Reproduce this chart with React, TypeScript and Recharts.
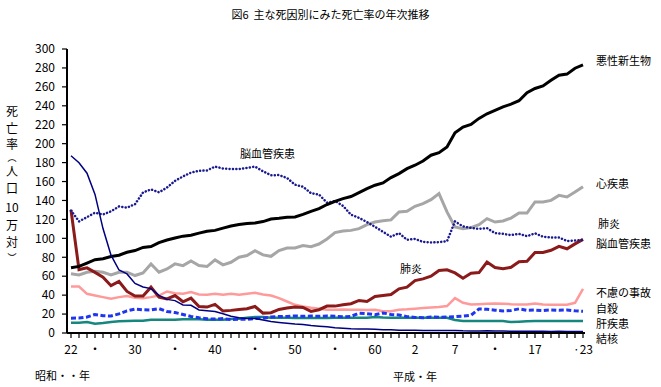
import { CartesianGrid, Line, LineChart, XAxis, YAxis } from "recharts";

const FONT = "'Noto Sans CJK JP', 'Noto Sans', sans-serif";

// 昭和22年(1947) ～ 平成23年(2011)
const years = [
  1947, 1948, 1949, 1950, 1951, 1952, 1953, 1954, 1955, 1956,
  1957, 1958, 1959, 1960, 1961, 1962, 1963, 1964, 1965, 1966,
  1967, 1968, 1969, 1970, 1971, 1972, 1973, 1974, 1975, 1976,
  1977, 1978, 1979, 1980, 1981, 1982, 1983, 1984, 1985, 1986,
  1987, 1988, 1989, 1990, 1991, 1992, 1993, 1994, 1995, 1996,
  1997, 1998, 1999, 2000, 2001, 2002, 2003, 2004, 2005, 2006,
  2007, 2008, 2009, 2010, 2011,
];

const cancer = [
  69.0, 70.4, 73.9, 77.4, 78.5, 80.8, 82.2, 85.3, 87.1, 90.4,
  91.3, 95.5, 98.2, 100.4, 102.3, 103.2, 105.5, 107.5, 108.4, 110.8,
  113.0, 114.6, 115.7, 116.3, 117.7, 120.4, 121.2, 122.2, 122.6, 125.3,
  128.4, 131.3, 135.7, 139.1, 142.0, 144.2, 148.3, 152.5, 156.1, 158.5,
  164.2, 168.4, 173.6, 177.2, 181.7, 187.8, 190.4, 196.4, 211.6, 217.5,
  220.4, 226.7, 231.6, 235.2, 238.8, 241.7, 245.4, 253.9, 258.3, 261.0,
  266.9, 272.3, 273.5, 279.7, 283.2,
];

const heart = [
  62.5, 61.4, 64.2, 65.3, 64.2, 61.4, 64.2, 64.2, 60.7, 63.5,
  73.0, 64.2, 67.7, 73.0, 71.2, 76.1, 71.2, 70.2, 77.2, 72.0,
  74.7, 80.0, 81.8, 87.0, 82.5, 81.0, 87.0, 89.8, 89.8, 92.3,
  91.2, 94.0, 99.3, 106.0, 107.7, 108.4, 110.2, 114.5, 117.2, 118.5,
  119.5, 127.8, 128.5, 133.8, 136.6, 140.8, 147.2, 128.0, 112.0, 110.2,
  111.3, 114.4, 120.8, 117.2, 118.3, 121.4, 126.7, 126.7, 138.4, 138.4,
  140.1, 145.4, 143.7, 149.0, 154.5,
];

const cerebro = [
  129.4, 117.9, 122.4, 127.1, 125.2, 128.5, 133.7, 132.4, 136.1, 148.4,
  151.7, 148.6, 153.7, 160.7, 165.4, 169.4, 171.4, 171.7, 175.8, 173.8,
  173.1, 173.2, 174.4, 175.8, 170.8, 166.7, 166.8, 163.8, 156.7, 154.5,
  147.7, 146.2, 137.7, 139.5, 134.3, 125.0, 121.6, 117.2, 112.2, 106.9,
  101.7, 105.5, 98.5, 99.4, 96.2, 95.6, 96.0, 96.9, 117.9, 112.6,
  111.0, 110.0, 110.8, 105.5, 104.7, 103.4, 104.7, 102.3, 105.3, 101.7,
  100.8, 100.9, 97.2, 97.7, 98.2,
];

const pneumonia = [
  130.0, 67.0, 68.8, 64.0, 59.0, 50.0, 54.4, 43.9, 39.0, 39.0,
  48.4, 37.9, 36.0, 39.6, 33.0, 36.8, 28.0, 27.4, 30.2, 23.2,
  23.9, 24.9, 25.6, 28.0, 21.0, 21.4, 24.9, 26.3, 27.4, 27.0,
  22.8, 24.6, 28.4, 28.4, 29.8, 30.9, 34.4, 33.3, 38.6, 39.6,
  40.7, 46.7, 48.4, 55.4, 57.2, 60.0, 66.0, 66.7, 63.5, 57.9,
  63.1, 63.8, 74.9, 69.2, 67.8, 69.4, 75.3, 75.7, 85.0, 85.0,
  87.4, 91.6, 89.0, 94.1, 98.9,
];

const accident = [
  49.1, 49.0, 41.4, 39.6, 37.9, 36.1, 37.9, 39.0, 37.2, 36.8,
  37.9, 39.6, 43.9, 42.1, 41.5, 43.2, 40.7, 40.4, 41.4, 40.4,
  41.4, 40.4, 41.4, 42.5, 40.7, 39.6, 36.8, 33.3, 29.8, 28.0,
  26.7, 25.6, 24.6, 24.5, 24.9, 24.6, 24.6, 24.3, 24.6, 23.0,
  23.0, 24.6, 25.0, 25.6, 26.3, 27.0, 27.4, 28.4, 36.8, 31.9,
  30.2, 30.5, 30.9, 31.2, 31.0, 30.5, 30.2, 30.0, 31.2, 30.0,
  29.8, 29.8, 29.8, 31.9, 46.7,
];

const suicide = [
  15.7, 15.8, 16.9, 19.6, 18.2, 18.0, 20.2, 23.4, 25.2, 24.5,
  24.3, 25.7, 22.7, 21.6, 19.6, 17.5, 16.1, 15.1, 14.7, 15.2,
  14.2, 14.5, 14.5, 15.3, 15.6, 17.0, 17.4, 17.5, 18.0, 17.6,
  17.9, 17.6, 18.0, 17.7, 17.1, 17.5, 21.0, 20.4, 19.4, 21.2,
  19.6, 19.0, 17.3, 16.4, 16.1, 16.9, 16.6, 16.9, 17.2, 17.8,
  18.8, 25.4, 25.0, 24.1, 23.3, 23.8, 25.5, 24.0, 24.2, 23.7,
  24.4, 24.0, 24.4, 23.4, 22.9,
];

const liver = [
  10.9, 10.9, 11.6, 9.8, 10.5, 11.6, 12.3, 12.6, 13.0, 13.0,
  14.0, 14.0, 14.0, 14.0, 14.4, 14.4, 14.4, 14.0, 14.0, 14.0,
  14.7, 15.1, 16.1, 16.8, 16.8, 16.1, 16.0, 16.0, 15.8, 15.8,
  15.8, 15.8, 15.8, 16.1, 16.1, 16.1, 16.1, 16.1, 17.0, 16.4,
  16.1, 16.1, 16.1, 16.1, 16.1, 16.1, 16.1, 16.1, 13.7, 12.8,
  12.6, 12.6, 12.6, 12.8, 12.6, 11.5, 12.0, 12.3, 12.6, 12.6,
  12.6, 12.6, 12.6, 12.6, 12.6,
];

const tuberculosis = [
  187.2, 179.9, 168.8, 146.4, 110.3, 82.2, 66.5, 62.4, 52.3, 48.6,
  46.9, 39.7, 35.5, 34.2, 29.6, 29.3, 24.4, 23.6, 22.8, 20.3,
  17.8, 16.1, 15.4, 15.4, 13.7, 12.2, 11.2, 10.3, 9.5, 8.9,
  7.8, 7.2, 6.5, 5.5, 5.0, 4.5, 4.3, 4.1, 3.9, 3.5,
  3.4, 3.0, 2.9, 3.0, 2.7, 2.7, 2.7, 2.6, 2.6, 2.3,
  2.2, 2.2, 2.3, 2.1, 2.0, 1.8, 1.9, 1.8, 1.8, 1.8,
  1.7, 1.8, 1.7, 1.7, 1.7,
];

const yTicks = [0, 20, 40, 60, 80, 100, 120, 140, 160, 180, 200, 220, 240, 260, 280, 300];

const xLabels: Record<number, string> = {
  1947: "22",
  1950: "・",
  1955: "30",
  1960: "・",
  1965: "40",
  1970: "・",
  1975: "50",
  1980: "・",
  1985: "60",
  1990: "2",
  1995: "7",
  2000: "・",
  2005: "17",
  2011: "·23",
};

const rows = years.map((year, i) => ({
  year,
  cancer: cancer[i],
  heart: heart[i],
  cerebro: cerebro[i],
  pneumonia: pneumonia[i],
  accident: accident[i],
  suicide: suicide[i],
  liver: liver[i],
  tuberculosis: tuberculosis[i],
}));

const sideLabels = [
  { text: "悪性新生物", x: 596, y: 60 },
  { text: "心疾患", x: 596, y: 183 },
  { text: "肺炎", x: 598, y: 223 },
  { text: "脳血管疾患", x: 596, y: 243 },
  { text: "不慮の事故", x: 596, y: 292 },
  { text: "自殺", x: 596, y: 307.5 },
  { text: "肝疾患", x: 596, y: 322.5 },
  { text: "結核", x: 596, y: 337.5 },
  { text: "脳血管疾患", x: 240, y: 153 },
  { text: "肺炎", x: 400, y: 268 },
  { text: "昭和・・年", x: 35, y: 375 },
  { text: "平成・年", x: 393, y: 376 },
];

const yLabelChars = [
  { ch: "死", y: 111, size: 12 },
  { ch: "亡", y: 128, size: 12 },
  { ch: "率", y: 144, size: 12 },
  { ch: "︵", y: 157, size: 9 },
  { ch: "人", y: 171, size: 12 },
  { ch: "口", y: 188, size: 12 },
  { ch: "10", y: 207, size: 12 },
  { ch: "万", y: 225, size: 12 },
  { ch: "対", y: 242, size: 12 },
  { ch: "︶", y: 257, size: 9 },
];

const axisTick = { fill: "#000", fontSize: 12, fontFamily: FONT };

export default function App() {
  return (
    <div
      style={{
        position: "absolute",
        left: 0,
        top: 0,
        width: 661,
        height: 387,
        background: "#fff",
        fontFamily: FONT,
        color: "#000",
      }}
    >
      <LineChart
        width={661}
        height={387}
        data={rows}
        margin={{ top: 49, right: 76, bottom: 0, left: 0 }}
      >
        <CartesianGrid stroke="none" />
        <XAxis
          dataKey="year"
          type="number"
          domain={[1946.5, 2011.25]}
          ticks={years}
          interval={0}
          height={54}
          tickSize={5}
          tickMargin={7}
          tickFormatter={(v: number) => xLabels[v] ?? ""}
          axisLine={{ stroke: "#000", strokeWidth: 2 }}
          tickLine={{ stroke: "#000", strokeWidth: 1.2 }}
          tick={axisTick}
        />
        <YAxis
          domain={[0, 300]}
          ticks={yTicks}
          interval={0}
          width={67}
          tickSize={5}
          tickMargin={7}
          axisLine={{ stroke: "#000", strokeWidth: 2 }}
          tickLine={{ stroke: "#000", strokeWidth: 1.2 }}
          tick={axisTick}
        />
        <Line dataKey="accident" stroke="#ff9a9a" strokeWidth={2.5} dot={false} isAnimationActive={false} />
        <Line dataKey="liver" stroke="#15877f" strokeWidth={2.5} dot={false} isAnimationActive={false} />
        <Line
          dataKey="suicide"
          stroke="#1f36ee"
          strokeWidth={3}
          strokeDasharray="5 2.5"
          dot={false}
          isAnimationActive={false}
        />
        <Line dataKey="heart" stroke="#a6a6a6" strokeWidth={3} dot={false} isAnimationActive={false} />
        <Line dataKey="pneumonia" stroke="#8b1a1a" strokeWidth={3} dot={false} isAnimationActive={false} />
        <Line
          dataKey="cerebro"
          stroke="#1a1a90"
          strokeWidth={2.5}
          strokeDasharray="0.1 3.3"
          strokeLinecap="round"
          dot={false}
          isAnimationActive={false}
        />
        <Line dataKey="cancer" stroke="#000" strokeWidth={3} dot={false} isAnimationActive={false} />
        <Line dataKey="tuberculosis" stroke="#000080" strokeWidth={1.5} dot={false} isAnimationActive={false} />
      </LineChart>

      <div
        style={{
          position: "absolute",
          left: 0,
          width: 661,
          top: 14,
          transform: "translateY(-50%)",
          textAlign: "center",
          fontSize: 11,
          lineHeight: 1,
        }}
      >
        図6{"\u00a0\u00a0"}主な死因別にみた死亡率の年次推移
      </div>

      {sideLabels.map((l, i) => (
        <div
          key={i}
          style={{
            position: "absolute",
            left: l.x,
            top: l.y,
            transform: "translateY(-50%)",
            fontSize: 11,
            lineHeight: 1,
            whiteSpace: "nowrap",
          }}
        >
          {l.text}
        </div>
      ))}

      {yLabelChars.map((c, i) => (
        <div
          key={i}
          style={{
            position: "absolute",
            left: 0,
            width: 24,
            top: c.y,
            transform: "translateY(-50%)",
            textAlign: "center",
            fontSize: c.size,
            lineHeight: 1,
          }}
        >
          {c.ch}
        </div>
      ))}
    </div>
  );
}
